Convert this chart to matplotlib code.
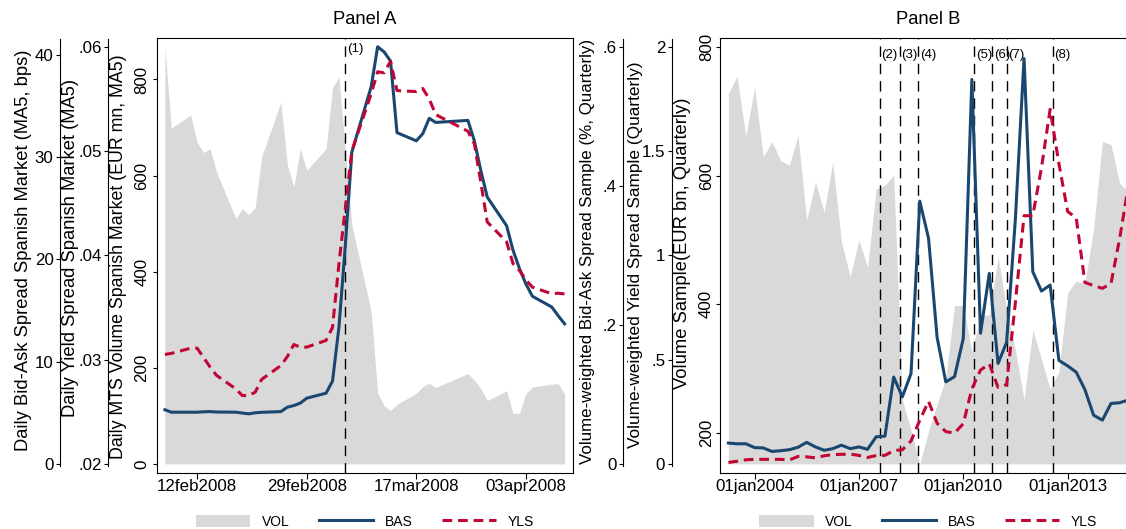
import numpy as np
import pandas as pd
import matplotlib
matplotlib.use("Agg")
import matplotlib.pyplot as plt
import matplotlib.dates as mdates
from matplotlib.patches import Patch
from matplotlib.lines import Line2D

plt.rcParams["font.family"] = ["Liberation Sans", "DejaVu Sans"]
plt.rcParams["lines.scale_dashes"] = False

# ---------------- Panel A: daily series, Spanish MTS market ----------------
days_a = ["2008-02-07", "2008-02-08", "2008-02-11", "2008-02-12", "2008-02-13",
          "2008-02-14", "2008-02-15", "2008-02-18", "2008-02-19", "2008-02-20",
          "2008-02-21", "2008-02-22", "2008-02-25", "2008-02-26", "2008-02-27",
          "2008-02-28", "2008-02-29", "2008-03-03", "2008-03-04", "2008-03-05",
          "2008-03-06", "2008-03-07", "2008-03-10", "2008-03-11", "2008-03-12",
          "2008-03-13", "2008-03-14", "2008-03-17", "2008-03-18", "2008-03-19",
          "2008-03-20", "2008-03-25", "2008-03-26", "2008-03-27", "2008-03-28",
          "2008-03-31", "2008-04-01", "2008-04-02", "2008-04-03", "2008-04-04",
          "2008-04-07", "2008-04-08", "2008-04-09"]
vol_a = [868, 699, 726, 669, 648, 656, 608, 511, 531, 519,
         533, 639, 753, 622, 576, 656, 611, 656, 783, 805,
         650, 497, 317, 147, 121, 111, 124, 147, 161, 168,
         159, 188, 174, 157, 132, 152, 105, 106, 147, 160,
         166, 167, 145]
bas_a = [5.3, 5.06, 5.06, 5.06, 5.1, 5.12, 5.08, 5.06, 4.98, 4.9,
         5.0, 5.05, 5.12, 5.55, 5.71, 5.95, 6.43, 6.92, 8.1, 13.4,
         21.5, 30.5, 36.9, 40.8, 40.3, 39.4, 32.4, 31.6, 32.3, 33.8,
         33.4, 33.6, 31.6, 28.7, 26.1, 23.3, 20.9, 19.1, 17.6, 16.4,
         15.35, 14.5, 13.7]
yls_a = [0.0305, 0.0306, 0.0311, 0.0311, 0.0302, 0.0293, 0.0285, 0.0272, 0.02656, 0.02656,
         0.02688, 0.0281, 0.02944, 0.0303, 0.03145, 0.0312, 0.0312, 0.03184, 0.0331, 0.0392,
         0.0446, 0.0500, 0.0555, 0.0576, 0.0575, 0.0586, 0.0558, 0.0557, 0.0560, 0.0550,
         0.0535, 0.0519, 0.0507, 0.0470, 0.0432, 0.0413, 0.0392, 0.03855, 0.03766, 0.03695,
         0.03632, 0.03637, 0.0363]
events_a = ["2008-03-06"]
event_labels_a = ["(1)"]
xticks_a = ["2008-02-12", "2008-02-29", "2008-03-17", "2008-04-03"]
vol_ticks_a = [0, 200, 400, 600, 800]
bas_ticks_a = [0, 10, 20, 30, 40]
yls_ticks_a = [0.02, 0.03, 0.04, 0.05, 0.06]
yls_ticklabels_a = [".02", ".03", ".04", ".05", ".06"]

# ---------------- Panel B: quarterly series, sample ----------------
quarters_b = pd.date_range("2003-04-01", "2014-10-01", freq="QS")
vol_b = [728, 754, 661, 737, 629, 653, 623, 616, 662, 531,
         590, 543, 621, 497, 443, 500, 457, 579, 585, 601,
         251, 205, 152, 203, 245, 285, 398, 398, 326, 383,
         383, 474, 392, 330, 252, 360, 315, 268, 295, 418,
         436, 432, 518, 653, 648, 588, 575]
bas_b = [0.030, 0.029, 0.029, 0.0235, 0.023, 0.018, 0.019, 0.0205, 0.024, 0.031,
         0.0245, 0.0196, 0.022, 0.027, 0.022, 0.0245, 0.021, 0.039, 0.040, 0.125,
         0.0965, 0.130, 0.378, 0.3245, 0.182, 0.118, 0.1255, 0.1805, 0.553, 0.188,
         0.274, 0.1445, 0.175, 0.35, 0.583, 0.2765, 0.2486, 0.2573, 0.149, 0.141,
         0.132, 0.107, 0.070, 0.063, 0.087, 0.088, 0.092]
yls_b = [0.007, 0.013, 0.020, 0.022, 0.022, 0.022, 0.022, 0.019, 0.036, 0.034,
         0.029, 0.039, 0.045, 0.046, 0.047, 0.041, 0.031, 0.040, 0.041, 0.064,
         0.068, 0.11, 0.21, 0.30, 0.195, 0.155, 0.148, 0.193, 0.36, 0.45,
         0.48, 0.367, 0.38, 0.77, 1.19, 1.19, 1.42, 1.70, 1.44, 1.21,
         1.18, 0.87, 0.855, 0.842, 0.865, 1.08, 1.335]
events_b = ["2007-08-09", "2008-03-07", "2008-09-15", "2010-04-26",
            "2010-11-01", "2011-04-06", "2012-07-26"]
event_labels_b = ["(2)", "(3)", "(4)", "(5)", "(6)", "(7)", "(8)"]
xticks_b = ["2004-01-01", "2007-01-01", "2010-01-01", "2013-01-01"]
vol_ticks_b = [200, 400, 600, 800]
bas_ticks_b = [0, 0.2, 0.4, 0.6]
bas_ticklabels_b = ["0", ".2", ".4", ".6"]
yls_ticks_b = [0, 0.5, 1, 1.5, 2]
yls_ticklabels_b = ["0", ".5", "1", "1.5", "2"]

# ---------------- styling ----------------
W, H = 1126, 529
BOX_TOP, BOX_BOTTOM = 38.0, 472.7
MARGIN = 0.021
NAVY = "#1a476f"
CRAN = "#c10534"
GREY = "#d9d9d9"
FS = 12.2
TITLE_FS_RANGE = (12.2, 13.2)
LW = 2.2
RED_DASH = (7.0, 4.2)
EVENT_DASH = (7.5, 5.0)

fig = plt.figure(figsize=(W / 100, H / 100), dpi=100)
fig.patch.set_facecolor("white")

# axis titles whose run length (px) is fitted after layout
fitted_titles = []


def pt(px):
    return px * 0.72


def padded(lo, hi):
    d = hi - lo
    return lo - MARGIN * d, hi + MARGIN * d


def frac_of(px_y):
    return (BOX_BOTTOM - px_y) / (BOX_BOTTOM - BOX_TOP)


def style_y(a, lim, ticks, labels, title, box_left, box_w, pad_px, title_pos,
            spine_px=None):
    a.set_ylim(*lim)
    a.yaxis.set_ticks_position("left")
    a.yaxis.set_label_position("left")
    a.set_yticks(ticks)
    a.set_yticklabels(labels, rotation=90, va="center", ha="right")
    a.tick_params(axis="y", direction="out", length=pt(4), width=0.8,
                  pad=pt(pad_px), labelsize=FS, colors="black")
    a.set_ylabel(title, fontsize=FS)
    right_px, center_px, run_px = title_pos
    a.yaxis.set_label_coords((right_px - box_left) / box_w, frac_of(center_px))
    fitted_titles.append((a.yaxis.label, run_px))
    if spine_px is not None:
        for side in ("top", "right", "bottom"):
            a.spines[side].set_visible(False)
        sp = a.spines["left"]
        sp.set_position(("axes", (spine_px - box_left) / box_w))
        sp.set_linewidth(0.8)
        lo, hi = lim
        sp.set_bounds(lo + frac_of(466) * (hi - lo), lo + frac_of(39) * (hi - lo))


def draw_panel(box_left, box_right, x, vol, bas, yls, vol_lim, bas_lim, yls_lim,
               vol_ticks, vol_labels, bas_ticks, bas_labels, yls_ticks, yls_labels,
               titles, spines_px, pads_px, title_pos, xticks, events, ev_labels,
               ev_y_px, panel_title, vol_base):
    box_w = box_right - box_left
    ax = fig.add_axes([box_left / W, 1 - BOX_BOTTOM / H, box_w / W,
                       (BOX_BOTTOM - BOX_TOP) / H])
    ax.set_facecolor("white")
    for s in ax.spines.values():
        s.set_linewidth(0.8)
        s.set_color("black")

    # x axis (dates)
    xnum = mdates.date2num(pd.to_datetime(x))
    tnum = mdates.date2num(pd.to_datetime(xticks))
    ax.set_xticks(tnum)
    ax.set_xticklabels([pd.Timestamp(t).strftime("%d%b%Y").lower() for t in xticks])
    ax.tick_params(axis="x", direction="out", length=pt(5.5), width=0.8, pad=pt(0.5),
                   labelsize=FS, top=False)

    # volume: shaded area on the frame axis
    ax.fill_between(xnum, vol, vol_base, color=GREY, lw=0, zorder=1)
    style_y(ax, vol_lim, vol_ticks, vol_labels, titles[2], box_left, box_w,
            pads_px[2], title_pos[2])

    # event markers
    for e, lab in zip(events, ev_labels):
        en = mdates.date2num(pd.Timestamp(e))
        ax.axvline(en, color="black", lw=1.0, dashes=EVENT_DASH, zorder=2)
        ax.annotate(lab, xy=(en, frac_of(ev_y_px)), xycoords=("data", "axes fraction"),
                    xytext=(1.0, 0), textcoords="offset points",
                    ha="left", va="center", fontsize=9.5, zorder=3)

    # bid-ask spread
    tb = ax.twinx()
    tb.plot(xnum, bas, color=NAVY, lw=LW, zorder=3)
    style_y(tb, bas_lim, bas_ticks, bas_labels, titles[0], box_left, box_w,
            pads_px[0], title_pos[0], spine_px=spines_px[0])

    # yield spread
    ty = ax.twinx()
    ty.plot(xnum, yls, color=CRAN, lw=LW, dashes=RED_DASH, zorder=4)
    style_y(ty, yls_lim, yls_ticks, yls_labels, titles[1], box_left, box_w,
            pads_px[1], title_pos[1], spine_px=spines_px[1])

    ax.set_xlim(*padded(xnum[0], xnum[-1]))
    cx = (box_left + box_right) / 2
    fig.text(cx / W, 1 - 20 / H, panel_title, ha="center", va="center", fontsize=13.2)

    handles = [Patch(facecolor=GREY, edgecolor="none"),
               Line2D([], [], color=NAVY, lw=LW),
               Line2D([], [], color=CRAN, lw=LW, dashes=RED_DASH)]
    fig.legend(handles, ["VOL", "BAS", "YLS"], loc="center",
               bbox_to_anchor=(cx / W, 1 - 521.5 / H), ncol=3, frameon=False,
               fontsize=10, handlelength=3.9, handleheight=0.95, handletextpad=0.85,
               columnspacing=2.1, borderaxespad=0, borderpad=0)
    return ax


# Panel A
draw_panel(
    156.5, 573.0, days_a, vol_a, bas_a, yls_a,
    padded(0, max(vol_a)), padded(0, max(max(bas_a), bas_ticks_a[-1])),
    padded(yls_ticks_a[0], max(max(yls_a), yls_ticks_a[-1])),
    vol_ticks_a, [str(v) for v in vol_ticks_a],
    bas_ticks_a, [str(v) for v in bas_ticks_a],
    yls_ticks_a, yls_ticklabels_a,
    ["Daily Bid-Ask Spread Spanish Market (MA5, bps)",
     "Daily Yield Spread Spanish Market (MA5)",
     "Daily MTS Volume Spanish Market (EUR mn, MA5)"],
    (60.0, 108.3), (2.5, 2.5, 3.0),
    ((32.0, 250.0, 412.0), (79.5, 248.0, 338.0), (127.5, 257.0, 403.0)),
    xticks_a, events_a, event_labels_a, 49.0, "Panel A", 0)

# Panel B
draw_panel(
    720.0, 1136.8, quarters_b, vol_b, bas_b, yls_b,
    padded(min(vol_b), vol_ticks_b[-1]), padded(bas_ticks_b[0], bas_ticks_b[-1]),
    padded(yls_ticks_b[0], yls_ticks_b[-1]),
    vol_ticks_b, [str(v) for v in vol_ticks_b],
    bas_ticks_b, bas_ticklabels_b,
    yls_ticks_b, yls_ticklabels_b,
    ["Volume-weighted Bid-Ask Spread Sample (%, Quarterly)",
     "Volume-weighted Yield Spread Sample (Quarterly)",
     "Volume Sample(EUR bn, Quarterly)"],
    (623.3, 671.7), (2.8, 2.5, 2.0),
    ((595.0, 251.0, 420.0), (643.0, 255.0, 385.0), (691.0, 243.0, 300.0)),
    xticks_b, events_b, event_labels_b, 55.0, "Panel B", min(vol_b))

# fit each axis title to its run length along the axis, within a narrow size band
fig.canvas.draw()
renderer = fig.canvas.get_renderer()
for label, run_px in fitted_titles:
    ext = label.get_window_extent(renderer).height
    size = label.get_fontsize() * run_px / ext
    label.set_fontsize(min(max(size, TITLE_FS_RANGE[0]), TITLE_FS_RANGE[1]))

fig.savefig("out.png", dpi=100, facecolor="white")
